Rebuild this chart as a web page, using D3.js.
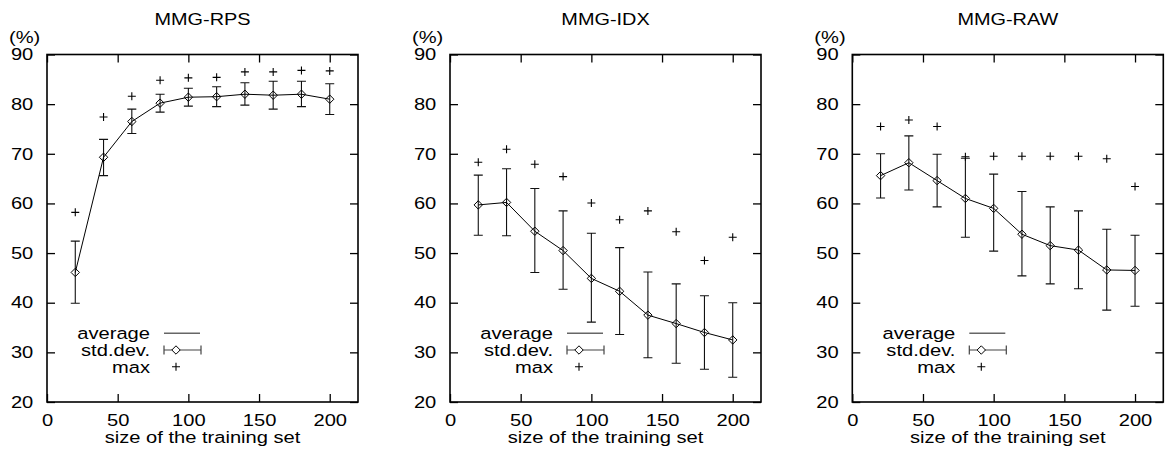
<!DOCTYPE html>
<html>
<head>
<meta charset="utf-8">
<script src="https://cdn.jsdelivr.net/npm/d3@7"></script>
<style>
  body { margin: 0; background: #fff; }
  svg { display: block; }
  text { font-family: "Liberation Sans", Arial, Helvetica, sans-serif; fill: #000; }
</style>
</head>
<body>
<div id="chart"></div>
<script>
"use strict";

// training set sizes (x values)
var sizes = [20, 40, 60, 80, 100, 120, 140, 160, 180, 200];

// MMG-RPS
var rpsMean = [46.1, 69.3, 76.5, 80.2, 81.4, 81.5, 82.0, 81.8, 82.0, 81.0];
var rpsHigh = [52.4, 72.9, 79.0, 82.0, 83.2, 83.5, 84.3, 84.6, 84.6, 84.1];
var rpsLow  = [39.9, 65.6, 74.1, 78.4, 79.6, 79.5, 79.8, 79.0, 79.5, 77.9];
var rpsMax  = [58.2, 77.4, 81.6, 84.8, 85.3, 85.4, 86.5, 86.5, 86.8, 86.7];

// MMG-IDX
var idxMean = [59.7, 60.2, 54.4, 50.5, 44.9, 42.3, 37.5, 35.8, 34.0, 32.5];
var idxHigh = [65.7, 67.0, 63.0, 58.5, 54.0, 51.1, 46.2, 43.8, 41.4, 40.0];
var idxLow  = [53.6, 53.5, 46.1, 42.7, 36.1, 33.6, 28.9, 27.8, 26.6, 25.0];
var idxMax  = [68.3, 70.9, 67.9, 65.4, 60.1, 56.7, 58.5, 54.3, 48.5, 53.2];

// MMG-RAW
var rawMean = [65.6, 68.2, 64.6, 61.0, 59.0, 53.8, 51.5, 50.6, 46.6, 46.5];
var rawHigh = [70.0, 73.6, 69.9, 69.1, 65.9, 62.4, 59.3, 58.5, 54.8, 53.6];
var rawLow  = [61.1, 62.7, 59.3, 53.2, 50.4, 45.4, 43.8, 42.8, 38.5, 39.3];
var rawMax  = [75.5, 76.8, 75.5, 69.4, 69.5, 69.5, 69.5, 69.5, 69.0, 63.4];

var titles = ["MMG-RPS", "MMG-IDX", "MMG-RAW"];
var xTicks = [0, 50, 100, 150, 200];
var yTicks = [20, 30, 40, 50, 60, 70, 80, 90];
var legendLabels = ["average", "std.dev.", "max"];

var panels = [
  {title: titles[0], mean: rpsMean, high: rpsHigh, low: rpsLow, max: rpsMax},
  {title: titles[1], mean: idxMean, high: idxHigh, low: idxLow, max: idxMax},
  {title: titles[2], mean: rawMean, high: rawHigh, low: rawLow, max: rawMax}
];

var W = 1167, H = 449;
var lefts = [47, 450, 852.3];
var pw = 311, plotTop = 54.5, plotBottom = 402;
var ph = plotBottom - plotTop;
var fs = 16.5, sx = 1.22;   // the original text is stretched horizontally

var svg = d3.select("#chart").append("svg")
            .attr("width", W)
            .attr("height", H);

var x = d3.scaleLinear().domain([0, 220]).range([0, pw]);
var y = d3.scaleLinear().domain([20, 90]).range([ph, 0]);

// stretched text helper
function label(g, tx, ty, str, anchor, size) {
  return g.append("text")
          .attr("transform", "translate(" + tx + "," + ty + ") scale(" + sx + ",1)")
          .attr("text-anchor", anchor)
          .style("font-size", (size || fs) + "px")
          .text(str);
}

function diamond(g, cx, cy, r, fill) {
  g.append("path")
   .attr("d", "M" + cx + "," + (cy - r) + "L" + (cx + r) + "," + cy +
              "L" + cx + "," + (cy + r) + "L" + (cx - r) + "," + cy + "Z")
   .attr("fill", fill || "none")
   .attr("stroke", "#000")
   .attr("stroke-width", 1);
}

function plus(g, cx, cy, r) {
  g.append("path")
   .attr("d", "M" + (cx - r) + "," + cy + "H" + (cx + r) + "M" + cx + "," + (cy - r) + "V" + (cy + r))
   .attr("stroke", "#000")
   .attr("stroke-width", 1.1);
}

panels.forEach(function(p, i) {
  var g = svg.append("g")
             .attr("transform", "translate(" + lefts[i] + "," + plotTop + ")");

  // axes with inward ticks
  g.append("g").call(d3.axisLeft(y).tickValues(yTicks).tickSizeInner(-8).tickSizeOuter(0).tickPadding(13.7));
  g.append("g").attr("transform", "translate(" + pw + ",0)")
   .call(d3.axisRight(y).tickValues(yTicks).tickSizeInner(-8).tickSizeOuter(0).tickFormat(""));
  g.append("g").attr("transform", "translate(0," + ph + ")")
   .call(d3.axisBottom(x).tickValues(xTicks).tickSizeInner(-8).tickSizeOuter(0).tickPadding(12));
  g.append("g")
   .call(d3.axisTop(x).tickValues(xTicks).tickSizeInner(-8).tickSizeOuter(0).tickFormat(""));

  g.selectAll(".domain").remove();
  g.selectAll(".tick line").attr("stroke", "#000").attr("stroke-width", 1.3);
  g.selectAll(".tick text")
   .attr("fill", "#000")
   .style("font-family", '"Liberation Sans", Arial, sans-serif')
   .style("font-size", fs + "px")
   .each(function() {
     var t = d3.select(this);
     t.attr("x", (+t.attr("x") || 0) / sx).attr("transform", "scale(" + sx + ",1)");
   });

  // frame
  g.append("rect")
   .attr("width", pw).attr("height", ph)
   .attr("fill", "none").attr("stroke", "#000").attr("stroke-width", 1.6);

  // title and axis labels
  label(g, pw / 2, 25 - plotTop, p.title, "middle", 16.3);
  label(g, -38, 42.5 - plotTop, "(%)", "start");
  label(g, pw / 2, 443.3 - plotTop, "size of the training set", "middle");

  // error bars
  sizes.forEach(function(s, j) {
    var cx = x(s);
    g.append("path")
     .attr("d", "M" + cx + "," + y(p.low[j]) + "V" + y(p.high[j]) +
                "M" + (cx - 4.5) + "," + y(p.low[j]) + "H" + (cx + 4.5) +
                "M" + (cx - 4.5) + "," + y(p.high[j]) + "H" + (cx + 4.5))
     .attr("fill", "none")
     .attr("stroke", "#111")
     .attr("stroke-width", 1.1);
  });

  // average line
  var line = d3.line()
               .x(function(d, j) { return x(sizes[j]); })
               .y(function(d) { return y(d); });
  g.append("path")
   .datum(p.mean)
   .attr("d", line)
   .attr("fill", "none")
   .attr("stroke", "#000")
   .attr("stroke-width", 1);

  p.mean.forEach(function(v, j) { diamond(g, x(sizes[j]), y(v), 4.2); });
  p.max.forEach(function(v, j) { plus(g, x(sizes[j]), y(v), 4); });

  // legend
  var rows = [333.3 - plotTop, 350 - plotTop, 366.7 - plotTop];
  legendLabels.forEach(function(t, k) {
    label(g, 103, rows[k] + 6, t, "end");
  });
  g.append("line")
   .attr("x1", 117).attr("x2", 153).attr("y1", rows[0]).attr("y2", rows[0])
   .attr("stroke", "#666").attr("stroke-width", 1.5);
  g.append("path")
   .attr("d", "M117," + rows[1] + "H154M117," + (rows[1] - 4.5) + "V" + (rows[1] + 4.5) +
              "M154," + (rows[1] - 4.5) + "V" + (rows[1] + 4.5))
   .attr("fill", "none").attr("stroke", "#444").attr("stroke-width", 1.2);
  diamond(g, 129, rows[1], 4.2, "#fff");
  plus(g, 129, rows[2], 4);
});
</script>
</body>
</html>
